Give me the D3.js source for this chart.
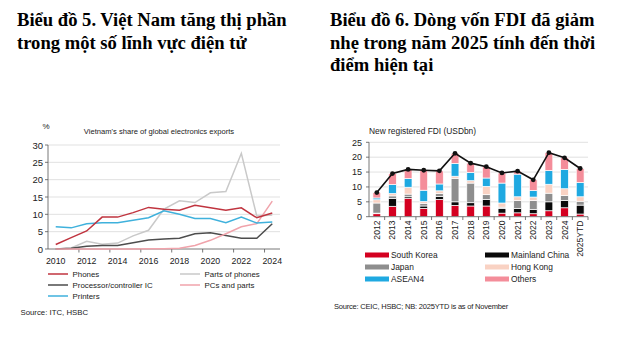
<!DOCTYPE html>
<html>
<head>
<meta charset="utf-8">
<script src="https://cdn.jsdelivr.net/npm/d3@7"></script>
<style>
  body { margin: 0; background: #fff; }
  svg { display: block; }
  .head { font-family: "Liberation Serif", "Times New Roman", serif; font-weight: bold; font-size: 18.6px; fill: #000; }
  .sm { font-family: "Liberation Sans", Arial, sans-serif; fill: #222; }
</style>
</head>
<body>
<svg width="629" height="340"></svg>
<script>
// ---- chart 5 data: Vietnam's share of global electronics exports (%)
const years = d3.range(2010, 2025);
const phones     = [1.3, 3.3, 5.2, 9.2, 9.2, 10.5, 12.0, 11.5, 11.2, 12.6, 11.9, 11.2, 11.9, 9.0, 10.4];
const partsPhone = [0, 0.3, 2.2, 1.4, 1.7, 3.8, 5.4, 11.5, 13.9, 13.4, 16.2, 16.6, 27.6, 9.5, 9.8];
const processor  = [0, 0.2, 0.8, 1.0, 1.0, 1.8, 2.6, 2.9, 3.1, 4.4, 4.7, 3.9, 3.1, 3.1, 7.3];
const pcs        = [0, 0, 0, 0, 0, 0, 0.1, 0.1, 0.2, 1.0, 2.5, 4.4, 6.4, 7.3, 13.8];
const printers   = [6.4, 6.1, 7.3, 7.6, 7.6, 8.3, 9.0, 11.0, 10.0, 8.8, 8.8, 7.6, 9.2, 7.5, 7.8];
const yTicks5 = [0, 5, 10, 15, 20, 25, 30];

// ---- chart 6 data: new registered FDI (USDbn)
const fdiYears = ["2012","2013","2014","2015","2016","2017","2018","2019","2020","2021","2022","2023","2024","2025YTD"];
const southKorea = [1.0, 3.5, 6.2, 2.8, 5.8, 3.8, 3.6, 3.6, 1.2, 1.3, 1.0, 2.0, 3.0, 0.9];
const china      = [0.2, 2.6, 0.5, 0.8, 1.0, 1.2, 1.1, 2.2, 1.5, 1.5, 1.4, 3.0, 2.5, 3.0];
const japan      = [3.4, 0.9, 0.9, 0.9, 1.0, 7.9, 6.6, 1.6, 0.5, 2.6, 3.0, 2.9, 1.6, 1.3];
const hongKong   = [1.1, 0.8, 2.3, 0.6, 0.9, 0.7, 0.8, 2.8, 1.4, 1.3, 1.2, 3.0, 2.3, 1.5];
const asean4     = [0.6, 3.0, 2.9, 3.8, 2.3, 4.3, 2.8, 2.8, 6.7, 7.6, 2.2, 4.6, 6.5, 4.8];
const others     = [1.8, 3.7, 3.1, 6.7, 4.4, 3.4, 3.1, 3.8, 3.4, 1.0, 3.6, 6.0, 3.9, 4.7];
const totals     = [8.1, 14.5, 15.9, 15.6, 15.4, 21.3, 18.0, 16.8, 14.7, 15.3, 12.4, 21.5, 19.8, 16.2];
const yTicks6 = [0, 5, 10, 15, 20, 25];

const svg = d3.select('svg');

// headings
const heads = [
  { x: 17, lines: ["Biểu đồ 5. Việt Nam tăng thị phần", "trong một số lĩnh vực điện tử"] },
  { x: 330, lines: ["Biểu đồ 6. Dòng vốn FDI đã giảm", "nhẹ trong năm 2025 tính đến thời", "điểm hiện tại"] }
];
heads.forEach(h => {
  h.lines.forEach((t, i) => {
    svg.append('text').attr('class', 'head')
      .attr('x', h.x).attr('y', 26 + i * 22.5).text(t);
  });
});

// ================= chart 5 (lines) =================
function lineChart() {
  const g = svg.append('g');
  const x = d3.scaleBand().domain(years).range([48, 280]);
  const y = d3.scaleLinear().domain([0, 30]).range([249, 145]);
  const cx = d => x(d) + x.bandwidth() / 2;

  // grid
  g.selectAll('.grid').data(yTicks5.filter(d => d > 0)).enter().append('line')
    .attr('x1', 48).attr('x2', 280)
    .attr('y1', d => y(d)).attr('y2', d => y(d))
    .attr('stroke', '#d9d9d9').attr('stroke-width', 0.8);

  g.selectAll('.yl').data(yTicks5).enter().append('text')
    .attr('class', 'sm').attr('x', 43).attr('y', d => y(d) + 3.5)
    .attr('text-anchor', 'end').style('font-size', '9.5px').text(d => d);

  // y axis + x axis lines
  g.append('line').attr('x1', 48).attr('x2', 48).attr('y1', 145).attr('y2', 249)
    .attr('stroke', '#555').attr('stroke-width', 0.8);
  g.append('line').attr('x1', 48).attr('x2', 280).attr('y1', 249).attr('y2', 249)
    .attr('stroke', '#555').attr('stroke-width', 0.8);
  g.selectAll('.yt').data(yTicks5).enter().append('line')
    .attr('x1', 45).attr('x2', 48).attr('y1', d => y(d)).attr('y2', d => y(d))
    .attr('stroke', '#555').attr('stroke-width', 0.8);

  const labelYears = years.filter(d => d % 2 === 0);
  g.selectAll('.xt').data(labelYears.filter(d => d > 2010)).enter().append('line')
    .attr('x1', d => x(d)).attr('x2', d => x(d)).attr('y1', 249).attr('y2', 252.5)
    .attr('stroke', '#555').attr('stroke-width', 0.8);
  g.selectAll('.xl').data(labelYears).enter().append('text')
    .attr('class', 'sm').attr('x', d => cx(d)).attr('y', 263.5)
    .attr('text-anchor', 'middle').style('font-size', '8.8px').text(d => d);

  g.append('text').attr('class', 'sm').attr('x', 46).attr('y', 128.5)
    .attr('text-anchor', 'middle').style('font-size', '8px').text('%');
  g.append('text').attr('class', 'sm').attr('x', 159).attr('y', 134)
    .attr('text-anchor', 'middle').style('font-size', '7.6px')
    .text("Vietnam's share of global electronics exports");

  const series = [
    { name: 'Parts of phones', values: partsPhone, color: '#c9c9c9' },
    { name: 'Processor/controller IC', values: processor, color: '#4d4d4d' },
    { name: 'PCs and parts', values: pcs, color: '#f0a3ab' },
    { name: 'Printers', values: printers, color: '#3fb1dc' },
    { name: 'Phones', values: phones, color: '#c0343f' }
  ];
  const line = d3.line().x((d, i) => cx(years[i])).y(d => y(d));
  g.selectAll('.ln').data(series).enter().append('path')
    .attr('d', s => line(s.values)).attr('fill', 'none')
    .attr('stroke', s => s.color).attr('stroke-width', 1.5);

  // legend
  const legend = [
    { name: 'Phones', color: '#c0343f', col: 0, row: 0 },
    { name: 'Parts of phones', color: '#c9c9c9', col: 1, row: 0 },
    { name: 'Processor/controller IC', color: '#4d4d4d', col: 0, row: 1 },
    { name: 'PCs and parts', color: '#f0a3ab', col: 1, row: 1 },
    { name: 'Printers', color: '#3fb1dc', col: 0, row: 2 }
  ];
  const lg = g.selectAll('.lg').data(legend).enter().append('g')
    .attr('transform', d => `translate(${d.col ? 180 : 48}, ${274 + d.row * 11})`);
  lg.append('line').attr('x1', 0).attr('x2', 20).attr('y1', 0).attr('y2', 0)
    .attr('stroke', d => d.color).attr('stroke-width', 1.5);
  lg.append('text').attr('class', 'sm').attr('x', 24.5).attr('y', 3)
    .style('font-size', '7.9px').text(d => d.name);

  g.append('text').attr('class', 'sm').attr('x', 20.5).attr('y', 314.5)
    .style('font-size', '7.8px').text('Source: ITC, HSBC');
}

// ================= chart 6 (stacked bars) =================
function barChart() {
  const g = svg.append('g');
  const xb = d3.scaleBand().domain(fdiYears).range([369, 588]);
  const y = d3.scaleLinear().domain([0, 25]).range([216.7, 142.3]);

  g.selectAll('.grid').data(yTicks6.filter(d => d > 0)).enter().append('line')
    .attr('x1', 369).attr('x2', 588)
    .attr('y1', d => y(d)).attr('y2', d => y(d))
    .attr('stroke', '#d9d9d9').attr('stroke-width', 0.8);

  g.selectAll('.yl').data(yTicks6).enter().append('text')
    .attr('class', 'sm').attr('x', 362).attr('y', d => y(d) + 3.3)
    .attr('text-anchor', 'end').style('font-size', '9px').text(d => d);

  const keys = ['South Korea', 'Mainland China', 'Japan', 'Hong Kong', 'ASEAN4', 'Others'];
  const cols = [southKorea, china, japan, hongKong, asean4, others];
  const colors = ['#d40020', '#0a0a0a', '#8e8e8e', '#f9d2c3', '#1fa9e1', '#f48d9a'];
  const rows = fdiYears.map((yr, i) => {
    const r = { year: yr };
    keys.forEach((k, j) => { r[k] = cols[j][i]; });
    return r;
  });
  const stacked = d3.stack().keys(keys)(rows);

  g.selectAll('.layer').data(stacked).enter().append('g')
    .attr('fill', (d, i) => colors[i])
    .selectAll('rect').data(d => d).enter().append('rect')
    .attr('x', d => xb(d.data.year) + (xb.bandwidth() - 7.8) / 2)
    .attr('width', 7.8)
    .attr('y', d => y(d[1]))
    .attr('height', d => y(d[0]) - y(d[1]))
    .attr('stroke', '#fff').attr('stroke-width', 0.7);

  // axes
  g.append('line').attr('x1', 369).attr('x2', 369).attr('y1', 142.3).attr('y2', 216.7)
    .attr('stroke', '#555').attr('stroke-width', 0.8);
  g.selectAll('.yt').data(yTicks6).enter().append('line')
    .attr('x1', 366).attr('x2', 369).attr('y1', d => y(d)).attr('y2', d => y(d))
    .attr('stroke', '#555').attr('stroke-width', 0.8);
  g.append('line').attr('x1', 369).attr('x2', 588).attr('y1', 216.7).attr('y2', 216.7)
    .attr('stroke', '#555').attr('stroke-width', 0.8);
  g.selectAll('.xt').data(fdiYears).enter().append('line')
    .attr('x1', d => xb(d) + xb.bandwidth()).attr('x2', d => xb(d) + xb.bandwidth())
    .attr('y1', 216.7).attr('y2', 220)
    .attr('stroke', '#555').attr('stroke-width', 0.8);

  g.selectAll('.xl').data(fdiYears).enter().append('text')
    .attr('class', 'sm').attr('text-anchor', 'end').style('font-size', '8.6px')
    .attr('transform', d => `translate(${xb(d) + xb.bandwidth() / 2 + 3}, 220.5) rotate(-90)`)
    .text(d => d);

  // total line
  const tl = d3.line().x((d, i) => xb(fdiYears[i]) + xb.bandwidth() / 2).y(d => y(d));
  g.append('path').attr('d', tl(totals)).attr('fill', 'none')
    .attr('stroke', '#111').attr('stroke-width', 1.6);
  g.selectAll('.dot').data(totals).enter().append('circle')
    .attr('cx', (d, i) => xb(fdiYears[i]) + xb.bandwidth() / 2).attr('cy', d => y(d))
    .attr('r', 2.4).attr('fill', '#111');

  g.append('text').attr('class', 'sm').attr('x', 369).attr('y', 134)
    .style('font-size', '8.4px').text('New registered FDI  (USDbn)');

  // legend
  const lg = g.selectAll('.lg').data(keys).enter().append('g')
    .attr('transform', (d, i) => `translate(${i % 2 ? 485 : 365}, ${255 + Math.floor(i / 2) * 12})`);
  lg.append('rect').attr('x', 0).attr('y', -2.5).attr('width', 24).attr('height', 5)
    .attr('fill', (d, i) => colors[i]);
  lg.append('text').attr('class', 'sm').attr('x', 26).attr('y', 3.2)
    .style('font-size', '8.4px').text(d => d);

  g.append('text').attr('class', 'sm').attr('x', 334).attr('y', 308.5)
    .style('font-size', '7.5px').style('letter-spacing', '-0.2px')
    .text('Source: CEIC, HSBC; NB: 2025YTD is as of November');
}

lineChart();
barChart();
</script>
</body>
</html>
